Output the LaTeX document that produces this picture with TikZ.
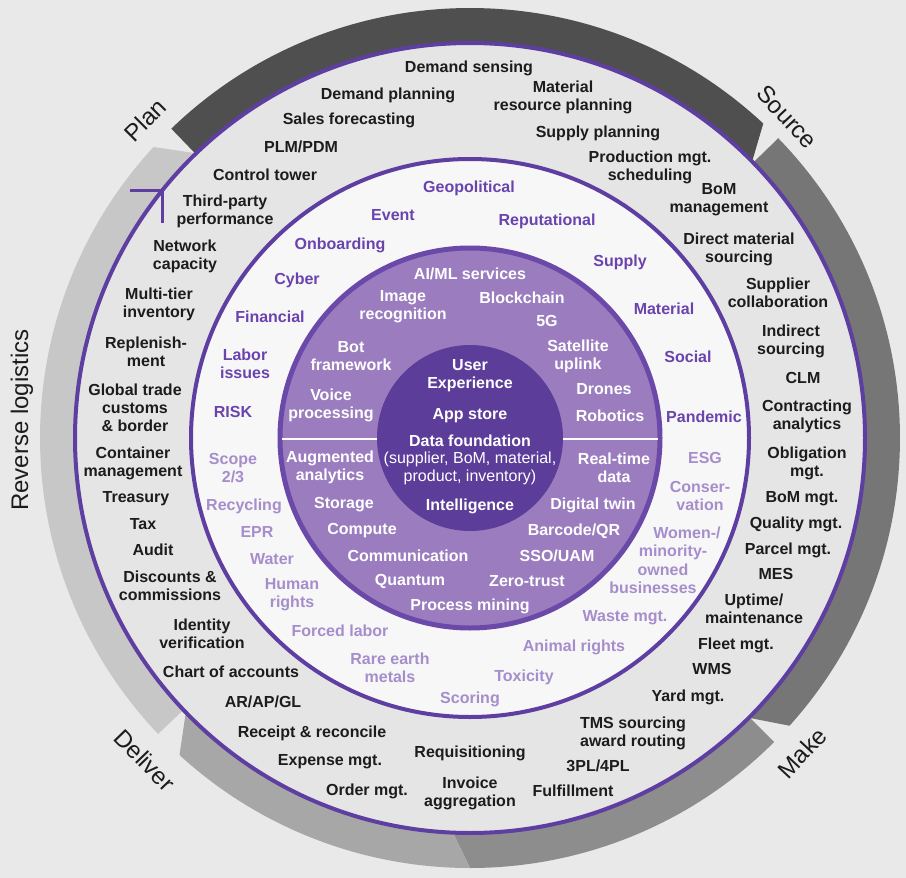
\documentclass[tikz,border=0pt]{standalone}
\usepackage{fontspec}
\setmainfont{Liberation Sans}
\definecolor{bgc}{HTML}{E9E9E9}
\definecolor{ringc}{HTML}{E5E5E5}
\definecolor{planc}{HTML}{4F4F4F}
\definecolor{sourcec}{HTML}{767676}
\definecolor{makec}{HTML}{8D8D8D}
\definecolor{deliverc}{HTML}{A7A7A7}
\definecolor{reversec}{HTML}{C7C7C7}
\definecolor{purp}{HTML}{5E3EA1}
\definecolor{whitec}{HTML}{F7F7F8}
\definecolor{medc}{HTML}{9B7DBF}
\definecolor{medborder}{HTML}{6B49A9}
\definecolor{darkc}{HTML}{5C3D99}
\definecolor{riskc}{HTML}{6A43AD}
\definecolor{esgc}{HTML}{A68DCB}
\definecolor{txtc}{HTML}{1C1C1C}
\tikzset{
  lab/.style={align=center, font=\fontsize{16}{18}\selectfont\bfseries, inner sep=0pt},
  blk/.style={lab, text=txtc},
  rsk/.style={lab, text=riskc},
  esgl/.style={lab, text=esgc},
  wht/.style={lab, text=white},
  phase/.style={font=\fontsize{24}{28}\selectfont, text=txtc, inner sep=0pt},
  arrowst/.style={draw=purp, line width=3pt, line join=miter}
}
\begin{document}
\begin{tikzpicture}[x=1pt,y=-1pt]
\useasboundingbox (0,0) rectangle (906,878);
\fill[bgc] (0,0) rectangle (906,878);
\begin{scope}[shift={(470,438)}]
  % phase bands
  \fill[planc] (-134:430) arc[start angle=-134, end angle=-47, radius=430] -- (-44.5:396) arc[start angle=-44.5, end angle=-134, radius=396] -- cycle;
  \fill[sourcec] (-44.2:430) arc[start angle=-44.2, end angle=42, radius=430] -- (45:396) arc[start angle=45, end angle=-44.2, radius=396] -- cycle;
  \fill[makec] (45:430) arc[start angle=45, end angle=90, radius=430] -- (92.4:396) arc[start angle=92.4, end angle=45, radius=396] -- cycle;
  \fill[deliverc] (90:430) arc[start angle=90, end angle=132.5, radius=430] -- (135.9:396) arc[start angle=135.9, end angle=92.4, radius=396] -- cycle;
  \fill[reversec] (136.5:430) arc[start angle=136.5, end angle=222.6, radius=430] -- (226:396) arc[start angle=226, end angle=136.5, radius=396] -- cycle;
  % rings
  \fill[ringc] (0,0) circle[radius=395];
  \draw[purp, line width=4pt] (0,0) circle[radius=395];
  \filldraw[fill=whitec, draw=purp, line width=4pt] (0,0) circle[radius=279];
  \filldraw[fill=medc, draw=medborder, line width=5pt] (0,0) circle[radius=190];
  \draw[white, line width=2pt] (-188,1) -- (188,1);
  \fill[darkc] (0,0) circle[radius=93];
\end{scope}
% arrowhead on outer circle
\coordinate (arrtip) at (162,190.5);
\draw[arrowst] ([xshift=-32pt]arrtip) -- (arrtip) -- ([yshift=-32pt]arrtip);
% phase labels
\node[phase, rotate=45] (plan) at (145,120) {Plan};
\node[phase, rotate=-47] (source) at (787,117) {Source};
\node[phase, rotate=47] (make) at (802,753) {Make};
\node[phase, rotate=-46] (deliver) at (145,760) {Deliver};
\node[phase, rotate=90] (reverse) at (22,420) {Reverse logistics};
% outer ring labels
\node[blk] (dmsens) at (469,68) {Demand sensing};
\node[blk] (dmplan) at (388,95) {Demand planning};
\node[blk] (mrp) at (563,97) {Material\\resource planning};
\node[blk] (salesf) at (349,120) {Sales forecasting};
\node[blk] (supplan) at (598,133) {Supply planning};
\node[blk] (plm) at (301,147) {PLM/PDM};
\node[blk] (prodm) at (650,167) {Production mgt.\\scheduling};
\node[blk] (ctrl) at (265,175) {Control tower};
\node[blk] (bomman) at (719,200) {BoM\\management};
\node[blk] (thirdp) at (225,211) {Third-party\\performance};
\node[blk] (dirmat) at (739,249) {Direct material\\sourcing};
\node[blk] (netcap) at (185,256) {Network\\capacity};
\node[blk] (supcol) at (778,293) {Supplier\\collaboration};
\node[blk] (multit) at (159,304) {Multi-tier\\inventory};
\node[blk] (indsrc) at (791,341) {Indirect\\sourcing};
\node[blk] (replen) at (146,352) {Replenish-\\ment};
\node[blk] (clm) at (803,378) {CLM};
\node[blk] (gtrade) at (135,408) {Global trade\\customs\\\& border};
\node[blk] (contr) at (807,416) {Contracting\\analytics};
\node[blk] (contmg) at (133,463) {Container\\management};
\node[blk] (oblig) at (807,463) {Obligation\\mgt.};
\node[blk] (treas) at (136,499) {Treasury};
\node[blk] (bommgt) at (802,499) {BoM mgt.};
\node[blk] (tax) at (143,524) {Tax};
\node[blk] (qual) at (796,524) {Quality mgt.};
\node[blk] (audit) at (153,550) {Audit};
\node[blk] (parcel) at (788,550) {Parcel mgt.};
\node[blk] (disc) at (170,586) {Discounts \&\\commissions};
\node[blk] (mes) at (776,574) {MES};
\node[blk] (uptime) at (754,609) {Uptime/\\maintenance};
\node[blk] (ident) at (202,634) {Identity\\verification};
\node[blk] (fleet) at (736,645) {Fleet mgt.};
\node[blk] (chart) at (231,672) {Chart of accounts};
\node[blk] (wms) at (712,669) {WMS};
\node[blk] (yard) at (688,697) {Yard mgt.};
\node[blk] (arap) at (263,702) {AR/AP/GL};
\node[blk] (tms) at (633,733) {TMS sourcing\\award routing};
\node[blk] (receipt) at (312,733) {Receipt \& reconcile};
\node[blk] (requis) at (470,753) {Requisitioning};
\node[blk] (expense) at (330,762) {Expense mgt.};
\node[blk] (tpl) at (598,766) {3PL/4PL};
\node[blk] (order) at (367,791) {Order mgt.};
\node[blk] (invoice) at (470,793) {Invoice\\aggregation};
\node[blk] (fulfil) at (573,791) {Fulfillment};
% risk labels
\node[rsk] (geo) at (469,188) {Geopolitical};
\node[rsk] (event) at (393,215) {Event};
\node[rsk] (reput) at (547,221) {Reputational};
\node[rsk] (onb) at (340,245) {Onboarding};
\node[rsk] (supply) at (620,262) {Supply};
\node[rsk] (cyber) at (297,280) {Cyber};
\node[rsk] (material) at (664,309) {Material};
\node[rsk] (financial) at (270,317) {Financial};
\node[rsk] (labor) at (245,364) {Labor\\issues};
\node[rsk] (social) at (688,357) {Social};
\node[rsk] (risk) at (233,412) {RISK};
\node[rsk] (pandemic) at (704,417) {Pandemic};
% ESG labels
\node[esgl] (scope) at (233,468) {Scope\\2/3};
\node[esgl] (esg) at (705,458) {ESG};
\node[esgl] (conser) at (700,496) {Conser-\\vation};
\node[esgl] (recyc) at (244,506) {Recycling};
\node[esgl] (epr) at (257,532) {EPR};
\node[esgl] (wom1) at (687,533) {Women-/};
\node[esgl] (wom2) at (673,552) {minority-};
\node[esgl] (wom3) at (663,570) {owned};
\node[esgl] (wom4) at (653,588) {businesses};
\node[esgl] (water) at (272,559) {Water};
\node[esgl] (human) at (292,595) {Human\\rights};
\node[esgl] (waste) at (625,618) {Waste mgt.};
\node[esgl] (forced) at (340,631) {Forced labor};
\node[esgl] (animal) at (574,647) {Animal rights};
\node[esgl] (rare) at (390,668) {Rare earth\\metals};
\node[esgl] (toxic) at (524,677) {Toxicity};
\node[esgl] (scoring) at (470,699) {Scoring};
% technology labels
\node[wht] (aiml) at (470,274) {AI/ML services};
\node[wht] (image) at (403,307) {Image\\recognition};
\node[wht] (block) at (522,298) {Blockchain};
\node[wht] (fiveg) at (547,321) {5G};
\node[wht] (bot) at (351,356) {Bot\\framework};
\node[wht] (sat) at (578,356) {Satellite\\uplink};
\node[wht] (voice) at (331,405) {Voice\\processing};
\node[wht] (drones) at (604,389) {Drones};
\node[wht] (robot) at (610,416) {Robotics};
\node[wht] (augm) at (330,467) {Augmented\\analytics};
\node[wht] (realt) at (614,468) {Real-time\\data};
\node[wht] (storage) at (344,505) {Storage};
\node[wht] (twin) at (593,505) {Digital twin};
\node[wht] (compute) at (362,531) {Compute};
\node[wht] (barcode) at (574,531) {Barcode/QR};
\node[wht] (comm) at (408,556) {Communication};
\node[wht] (sso) at (557,556) {SSO/UAM};
\node[wht] (quantum) at (410,581) {Quantum};
\node[wht] (zero) at (527,581) {Zero-trust};
\node[wht] (procm) at (470,606) {Process mining};
% core labels
\node[wht] (ux) at (470,376) {User\\Experience};
\node[wht] (app) at (470,416) {App store};
\node[wht] (dataf) at (470,441) {Data foundation};
\node[wht, font=\fontsize{16}{18}\selectfont] (datad) at (470,468) {(supplier, BoM, material,\\product, inventory)};
\node[wht] (intel) at (470,506) {Intelligence};
\end{tikzpicture}
\end{document}
